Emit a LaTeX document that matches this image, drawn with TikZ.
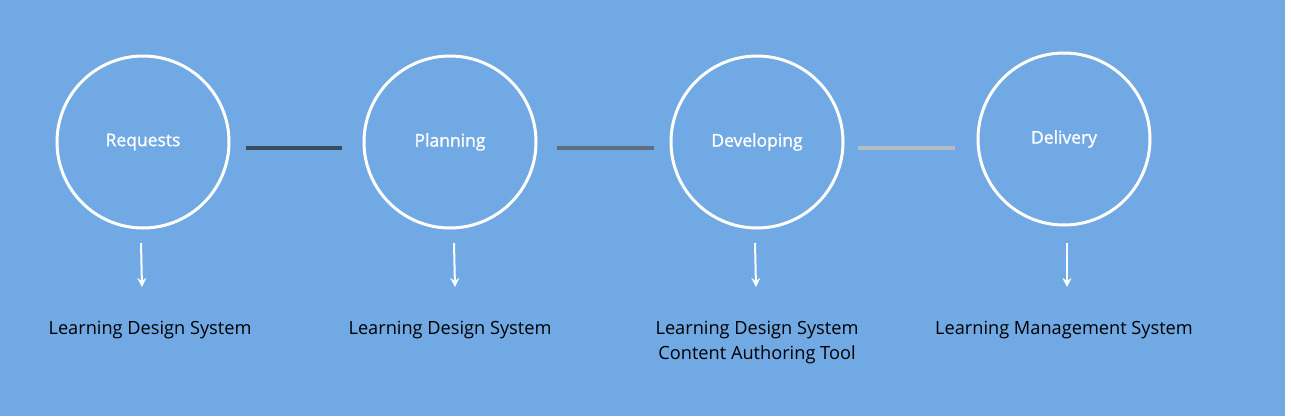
\documentclass[tikz,border=0pt]{standalone}
\usepackage{fontspec}
\setmainfont{Open Sans}
\usetikzlibrary{arrows.meta}
\definecolor{bgblue}{HTML}{71A9E4}
\definecolor{linkA}{HTML}{3B4A5C}
\definecolor{linkB}{HTML}{5E6E80}
\definecolor{linkC}{HTML}{B4BCC6}
\tikzset{every picture/.style={line width=0.75pt}}

\begin{document}
\begin{tikzpicture}[x=1pt,y=1pt,yscale=-1,xscale=1,
	stage/.style={circle,draw=white,line width=3pt,minimum size=172pt,inner sep=0pt,text=white,font=\fontsize{17.5}{20}\selectfont\addfontfeatures{FakeBold=1.2}},
	tool/.style={anchor=north,align=center,font=\fontsize{18.2}{25}\selectfont,inner sep=0pt},
	link/.style={line width=3.5pt},
	down/.style={draw=white,line width=2pt,-{Stealth[length=9pt,width=9pt]}}]
	%background
	\fill[bgblue] (0,0) rectangle (1285,416);
	\fill[white] (1285,0) rectangle (1291,416);
	\path[use as bounding box] (0,0) rectangle (1291,416);

	%stages
	\node[stage] (req) at (143,142) {Requests};
	\node[stage] (plan) at (450,142) {Planning};
	\node[stage] (dev) at (757,142) {Developing};
	\node[stage] (del) at (1064,139) {Delivery};

	%links between stages
	\draw[link,draw=linkA] (246,148) -- (342,148);
	\draw[link,draw=linkB] (557,148) -- (654,148);
	\draw[link,draw=linkC] (858,148) -- (955,148);

	%tools
	\node[tool] (treq) at (150,321) {Learning Design System};
	\node[tool] (tplan) at (450,321) {Learning Design System};
	\node[tool] (tdev) at (757,321) {Learning Design System\\Content Authoring Tool};
	\node[tool] (tdel) at (1064,321) {Learning Management System};

	%arrows
	\coordinate (areq) at (141,243);
	\coordinate (aplan) at (454,243);
	\coordinate (adev) at (755,243);
	\coordinate (adel) at (1067,243);
	\draw[down] (areq) -- ++(1,44);
	\draw[down] (aplan) -- ++(1,44);
	\draw[down] (adev) -- ++(1,44);
	\draw[down] (adel) -- ++(0,44);
\end{tikzpicture}
\end{document}
